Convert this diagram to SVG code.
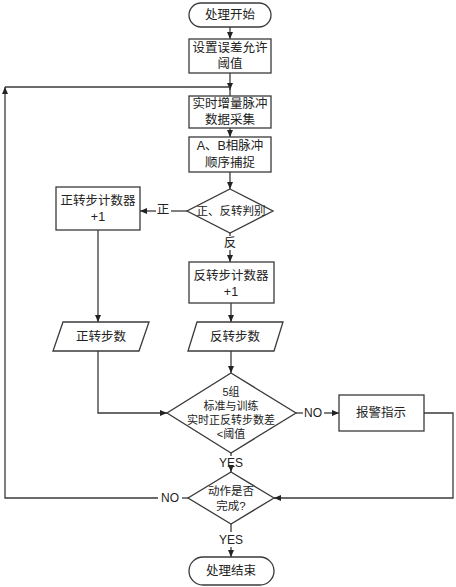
<svg xmlns="http://www.w3.org/2000/svg" width="456" height="587" viewBox="0 0 456 587">
<style>
.s{fill:#fff;stroke:#3a3a3a;stroke-width:1.3}
.c{fill:none;stroke:#3a3a3a;stroke-width:1.3}
text{font-family:"Liberation Sans","Noto Sans CJK SC",sans-serif;font-size:12.5px;fill:#222;text-anchor:middle;dominant-baseline:central}
.m{font-size:11.5px}
.d{font-size:11px}
.l{font-size:12px}
</style>
<defs>
<marker id="a" markerWidth="7" markerHeight="6" refX="7" refY="3" orient="auto" markerUnits="userSpaceOnUse">
<path d="M0,0 L7,3 L0,6 Z" fill="#222"/>
</marker>
</defs>
<rect width="456" height="587" fill="#fff"/>
<g id="connectors">
<line class="c" x1="230" y1="27" x2="230" y2="39" marker-end="url(#a)"/>
<line class="c" x1="230" y1="73" x2="230" y2="90" marker-end="url(#a)"/>
<line class="c" x1="230" y1="89" x2="230" y2="96"/>
<line class="c" x1="230" y1="128" x2="230" y2="137" marker-end="url(#a)"/>
<line class="c" x1="230" y1="172" x2="230" y2="189" marker-end="url(#a)"/>
<line class="c" x1="187" y1="211" x2="171" y2="211"/>
<line class="c" x1="156" y1="211" x2="140" y2="211" marker-end="url(#a)"/>
<line class="c" x1="230" y1="233" x2="230" y2="236"/>
<line class="c" x1="230" y1="250" x2="230" y2="262" marker-end="url(#a)"/>
<line class="c" x1="98" y1="230" x2="98" y2="322" marker-end="url(#a)"/>
<line class="c" x1="231" y1="303" x2="231" y2="322" marker-end="url(#a)"/>
<line class="c" x1="231" y1="351" x2="231" y2="373" marker-end="url(#a)"/>
<polyline class="c" points="98,351 98,413 167,413" marker-end="url(#a)"/>
<line class="c" x1="296" y1="413" x2="303" y2="413"/>
<line class="c" x1="324" y1="413" x2="339" y2="413" marker-end="url(#a)"/>
<polyline class="c" points="424,413 453,413 453,498 274,498" marker-end="url(#a)"/>
<line class="c" x1="231" y1="453" x2="231" y2="456"/>
<line class="c" x1="231" y1="469" x2="231" y2="472" marker-end="url(#a)"/>
<line class="c" x1="188" y1="498" x2="182" y2="498"/>
<polyline class="c" points="158,498 5,498 5,87" marker-end="url(#a)"/>
<line class="c" x1="5" y1="87" x2="230" y2="87"/>
<line class="c" x1="231" y1="524" x2="231" y2="532"/>
<line class="c" x1="231" y1="547" x2="231" y2="557" marker-end="url(#a)"/>
<text x="163" y="210">正</text>
<text x="230" y="243">反</text>
<text class="l" x="313" y="413">NO</text>
<text class="l" x="231" y="463">YES</text>
<text class="l" x="170" y="498">NO</text>
<text class="l" x="231" y="540">YES</text>
</g>
<g id="start">
<rect class="s" x="189" y="3" width="82" height="24" rx="12"/>
<text x="230" y="15">处理开始</text>
</g>
<g id="set-threshold">
<rect class="s" x="189" y="39" width="82" height="34"/>
<text><tspan x="230" y="48">设置误差允许</tspan><tspan x="230" y="64">阈值</tspan></text>
</g>
<g id="collect">
<rect class="s" x="189" y="96" width="82" height="32"/>
<text><tspan x="230" y="104">实时增量脉冲</tspan><tspan x="230" y="120">数据采集</tspan></text>
</g>
<g id="capture">
<rect class="s" x="189" y="137" width="82" height="35"/>
<text><tspan x="230" y="146">A、B相脉冲</tspan><tspan x="230" y="163">顺序捕捉</tspan></text>
</g>
<g id="direction">
<polygon class="s" points="230,189 273,211 230,233 187,211"/>
<text class="m" x="231" y="211">正、反转判别</text>
</g>
<g id="fwd-counter">
<rect class="s" x="56" y="187" width="84" height="43"/>
<text><tspan x="98" y="201">正转步计数器</tspan><tspan x="98" y="217">+1</tspan></text>
</g>
<g id="rev-counter">
<rect class="s" x="189" y="262" width="85" height="41"/>
<text><tspan x="231" y="276">反转步计数器</tspan><tspan x="231" y="292">+1</tspan></text>
</g>
<g id="fwd-steps">
<polygon class="s" points="63,322 149,322 139,351 53,351"/>
<text x="101" y="337">正转步数</text>
</g>
<g id="rev-steps">
<polygon class="s" points="197,322 283,322 274,351 188,351"/>
<text x="235" y="337">反转步数</text>
</g>
<g id="compare">
<polygon class="s" points="231,373 296,413 231,453 167,413"/>
<text class="d"><tspan x="231" y="392">5组</tspan><tspan x="231" y="406">标准与训练</tspan><tspan x="231" y="420">实时正反转步数差</tspan><tspan x="231" y="434">&lt;阈值</tspan></text>
</g>
<g id="alarm">
<rect class="s" x="339" y="395" width="85" height="36"/>
<text x="381" y="413">报警指示</text>
</g>
<g id="done">
<polygon class="s" points="231,472 274,498 231,524 188,498"/>
<text class="m"><tspan x="231" y="491">动作是否</tspan><tspan x="231" y="506">完成?</tspan></text>
</g>
<g id="end">
<rect class="s" x="189" y="557" width="85" height="28" rx="14"/>
<text x="231" y="571">处理结束</text>
</g>
</svg>
